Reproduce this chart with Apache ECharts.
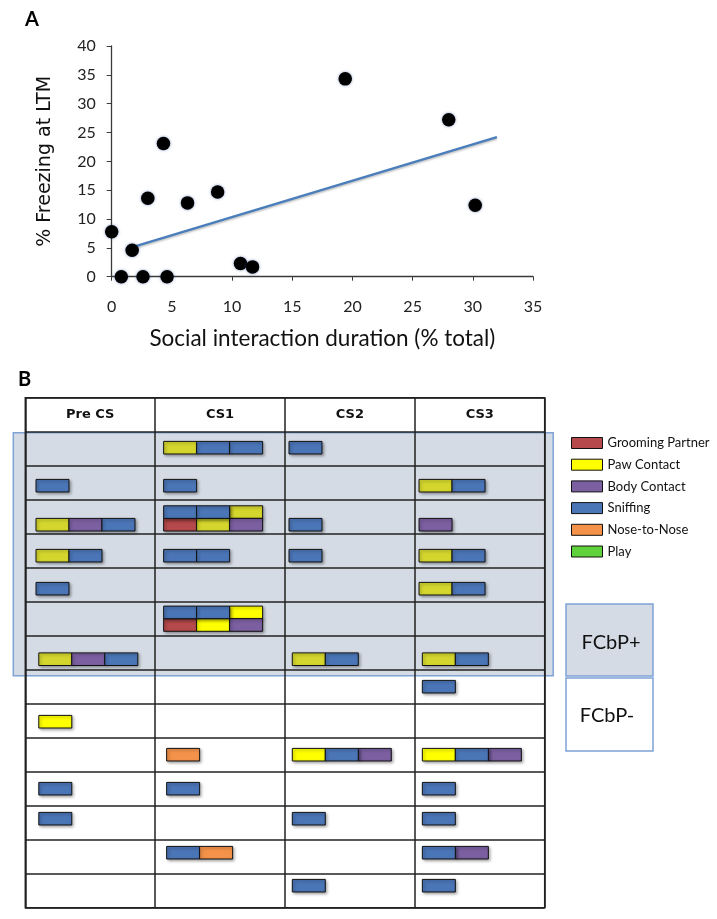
<!DOCTYPE html>
<html><head><meta charset="utf-8">
<script src="https://cdn.jsdelivr.net/npm/echarts@6/dist/echarts.min.js"></script>
<style>html,body{margin:0;padding:0;background:#fff}#c{width:717px;height:919px}</style>
</head><body><div id="c"></div>
<script>
// ---------- Panel A: scatter ----------
const interactionPct = [0, 1.7, 0.8, 2.6, 4.6, 3.0, 4.3, 6.3, 8.8, 10.7, 11.7, 19.4, 28.0, 30.2];
const freezingPct    = [7.8, 4.6, 0, 0, 0, 13.6, 23.1, 12.8, 14.7, 2.3, 1.7, 34.3, 27.2, 12.4];
const trendX = [2.0, 32.0];
const trendY = [5.3, 24.2];

// ---------- Panel B: behaviour table ----------
const periods = ['Pre CS', 'CS1', 'CS2', 'CS3'];
const behaviors = ['Grooming Partner', 'Paw Contact', 'Body Contact', 'Sniffing', 'Nose-to-Nose', 'Play'];
const behaviorCodes = ['G', 'P', 'B', 'S', 'N', 'L'];
// one string per animal (row); letters = behaviour sequence; '/' = two stacked lines (top/bottom);
// lower-case p = paw contact rendered in the olive tone
const preCS = ['', 'S', 'pBS', 'pS', 'S', '', 'pBS', '', 'P', '', 'S', 'S', '', ''];
const cs1   = ['pSS', 'S', 'SSp/GpB', 'SS', '', 'SSP/GPB', '', '', '', 'N', 'S', '', 'SN', ''];
const cs2   = ['S', '', 'S', 'S', '', '', 'pS', '', '', 'PSB', '', 'S', '', 'S'];
const cs3   = ['', 'pS', 'B', 'pS', 'pS', '', 'pS', 'S', '', 'PSB', 'S', 'S', 'SB', 'S'];
const fcbpPlusCount = 7;
const groupLabels = ['FCbP+', 'FCbP-'];

// ---------- styling / layout (not data) ----------
const COLORS = {G:'#b5494b', P:'#ffff00', B:'#7b5fa1', S:'#4a75b6', N:'#f4924a', L:'#5fd13a'};
const OLIVE = '#d4d62e';
const BW = 33, BH = 12.6;
const rowDy = [-1, 3, 8, 5, 4, 6.3, 6.5, 0, 1, 0, 0, -4, -4, -5];
const colPad = [[10.7, 8.5, 4, 4.2], [13.5, 11.5, 7.3, 7.5]];

const periodData = [preCS, cs1, cs2, cs3];
const blockData = {};
behaviorCodes.forEach(c => blockData[c] = []);
periodData.forEach((arr, col) => {
  arr.forEach((s, r) => {
    if (!s) return;
    const lines = s.split('/');
    lines.forEach((ln, li) => {
      const lineIdx = lines.length === 2 ? (li === 0 ? 1 : 0) : 0;
      ln.split('').forEach((ch, seq) => {
        const code = ch.toUpperCase();
        blockData[code].push([col, r + 1, seq, lineIdx, ch === 'p' ? 1 : 0]);
      });
    });
  });
});

function renderBlock(params, api) {
  const col = api.value(0), row = api.value(1), seq = api.value(2), line = api.value(3), olive = api.value(4);
  const c = api.coord([col, row]);
  const sz = api.size([1, 1]);
  const set = row <= 6 ? 0 : 1;
  const x = c[0] - sz[0] / 2 + colPad[set][col] + seq * BW;
  const yc = c[1] + rowDy[row - 1] - line * BH;
  return {
    type: 'rect',
    shape: {x: x, y: yc - BH / 2, width: BW, height: BH},
    style: {
      fill: olive ? OLIVE : api.visual('color'),
      stroke: '#111', lineWidth: 1,
      shadowBlur: 3, shadowOffsetX: 1.5, shadowOffsetY: 1.5, shadowColor: 'rgba(0,0,0,0.35)'
    }
  };
}

function renderOverlay(params, api) {
  const r0 = api.value(1), r1 = api.value(2);
  const sz = api.size([1, 1]);
  const a = api.coord([0, r0]), b = api.coord([3, r1]);
  const left = a[0] - sz[0] / 2 - 12, right = b[0] + sz[0] / 2 + 8.5;
  const top = a[1] - sz[1] / 2 + 1, bottom = b[1] + sz[1] / 2 + 6;
  return {
    type: 'rect',
    shape: {x: left, y: top, width: right - left, height: bottom - top},
    style: {fill: '#d5dbe4', stroke: '#7fa3d6', lineWidth: 1.5}
  };
}

const rowCats = [''];
for (let i = 1; i <= preCS.length; i++) rowCats.push(String(i));

const blockSeries = behaviors.map((name, i) => ({
  name: name,
  type: 'custom',
  xAxisIndex: 1, yAxisIndex: 1,
  itemStyle: {color: COLORS[behaviorCodes[i]], borderColor: '#111', borderWidth: 1},
  renderItem: renderBlock,
  encode: {x: 0, y: 1},
  data: blockData[behaviorCodes[i]],
  z: 5,
  silent: true
}));

const chart = echarts.init(document.getElementById('c'), null, {renderer: 'canvas'});
const axisCol = '#3a3a3a';
chart.setOption({
  animation: false,
  backgroundColor: '#fff',
  textStyle: {fontFamily: 'Lato'},
  grid: [
    {left: 111.7, top: 46, width: 421.3, height: 230.7, outerBoundsMode: 'none', containLabel: false},
    {left: 25.3, top: 397.7, width: 519.4, height: 510, outerBoundsMode: 'none', containLabel: false,
     show: true, borderColor: '#222', borderWidth: 1.5, backgroundColor: 'transparent'}
  ],
  xAxis: [
    {gridIndex: 0, type: 'value', min: 0, max: 35, interval: 5,
     axisLine: {show: true, lineStyle: {color: axisCol, width: 1.3}},
     axisTick: {show: true, length: 4, lineStyle: {color: axisCol}},
     axisLabel: {fontFamily: 'Lato', fontSize: 16, color: '#222', margin: 22},
     splitLine: {show: false},
     name: 'Social interaction duration (% total)', nameLocation: 'middle', nameGap: 51,
     nameTextStyle: {fontFamily: 'Lato', fontSize: 22.5, color: '#111'}},
    {gridIndex: 1, type: 'category', data: periods, position: 'top', boundaryGap: true,
     axisLine: {show: false}, axisTick: {show: false},
     axisLabel: {inside: true, margin: 17, verticalAlign: 'middle', fontFamily: 'DejaVu Sans', fontWeight: 'bold', fontSize: 13, color: '#111'},
     splitLine: {show: true, interval: 0, lineStyle: {color: '#222', width: 1.5}}}
  ],
  yAxis: [
    {gridIndex: 0, type: 'value', min: 0, max: 40, interval: 5,
     axisLine: {show: true, lineStyle: {color: axisCol, width: 1.3}},
     axisTick: {show: true, length: 5, lineStyle: {color: axisCol}},
     axisLabel: {fontFamily: 'Lato', fontSize: 16, color: '#222', margin: 16},
     splitLine: {show: false},
     name: '% Freezing at LTM', nameLocation: 'middle', nameGap: 57, nameRotate: 90,
     nameTextStyle: {fontFamily: 'DejaVu Sans', fontSize: 19, color: '#111'}},
    {gridIndex: 1, type: 'category', data: rowCats, inverse: true, boundaryGap: true,
     axisLine: {show: false}, axisTick: {show: false}, axisLabel: {show: false},
     splitLine: {show: true, interval: 0, lineStyle: {color: '#222', width: 1.5}}}
  ],
  legend: {
    orient: 'vertical', left: 566, top: 431.5, itemWidth: 31, itemHeight: 11, itemGap: 8.7,
    icon: 'rect', selectedMode: false, data: behaviors,
    itemStyle: {borderColor: '#111', borderWidth: 1},
    textStyle: {fontFamily: 'Lato', fontSize: 13, color: '#111', lineHeight: 11}
  },
  graphic: [
    {type: 'text', left: 25, top: 10, style: {text: 'A', font: 'bold 20px Lato', fill: '#000'}},
    {type: 'text', left: 18, top: 370, style: {text: 'B', font: 'bold 20px Lato', fill: '#000'}},
    {type: 'rect', shape: {x: 566, y: 604, width: 87, height: 72}, style: {fill: '#d5dbe4', stroke: '#7fa3d6', lineWidth: 1.5}},
    {type: 'rect', shape: {x: 566, y: 678, width: 87, height: 73}, style: {fill: '#fff', stroke: '#7fa3d6', lineWidth: 1.5}},
    {type: 'text', x: 611, y: 643, style: {text: groupLabels[0], font: '20px Lato', fill: '#111', align: 'center', verticalAlign: 'middle'}},
    {type: 'text', x: 607, y: 716, style: {text: groupLabels[1], font: '20px Lato', fill: '#111', align: 'center', verticalAlign: 'middle'}}
  ],
  series: [
    {type: 'line', xAxisIndex: 0, yAxisIndex: 0, showSymbol: false, symbol: 'none',
     data: trendX.map((x, i) => [x, trendY[i]]),
     lineStyle: {color: '#4a7ebb', width: 2.5, shadowBlur: 2, shadowOffsetY: 1.5, shadowColor: 'rgba(0,0,0,0.25)'},
     silent: true, z: 2},
    {type: 'scatter', xAxisIndex: 0, yAxisIndex: 0, symbolSize: 13.5,
     data: interactionPct.map((x, i) => [x, freezingPct[i]]),
     itemStyle: {color: '#000', opacity: 1, shadowBlur: 3, shadowColor: 'rgba(60,90,160,0.6)'},
     silent: true, z: 3},
    {type: 'custom', xAxisIndex: 1, yAxisIndex: 1, renderItem: renderOverlay, clip: false,
     data: [[0, 1, fcbpPlusCount]], encode: {x: 0, y: 1}, z: -1, silent: true}
  ].concat(blockSeries)
});
</script></body></html>
